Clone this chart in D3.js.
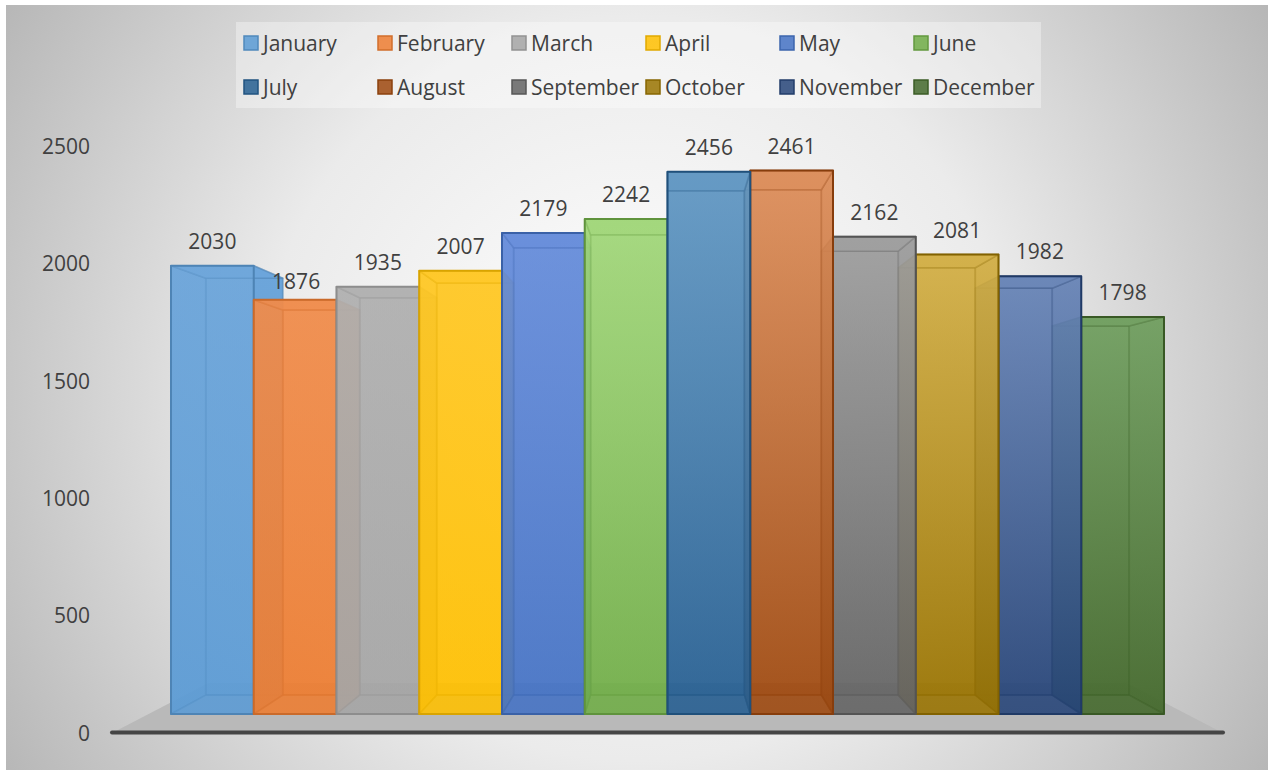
<!DOCTYPE html>
<html><head><meta charset="utf-8">
<style>html,body{margin:0;padding:0;background:#fff}svg{display:block}text{font-family:"Open Sans",sans-serif;fill:#404040}</style>
<script src="https://cdn.jsdelivr.net/npm/d3@7"></script></head><body>
<script>
const months=["January","February","March","April","May","June","July","August","September","October","November","December"];
const values=[2030,1876,1935,2007,2179,2242,2456,2461,2162,2081,1982,1798];
const colors=["#5B9BD5","#ED7D31","#A5A5A5","#FFC000","#4472C4","#70AD47","#255E91","#9E480E","#636363","#997300","#264478","#43682B"];
const topColors=["#6AA4DA","#F08B4A","#AFAFAF","#FFC722","#648BDA","#A0D678","#5F96C2","#DC8C58","#9C9C9C","#D2AE44","#6683B6","#6F9E5E"];
const yTicks=[0,500,1000,1500,2000,2500];
const W=1268,H=770;
const svg=d3.select("body").append("svg").attr("width",W).attr("height",H);
const defs=svg.append("defs");
const bg=defs.append("radialGradient").attr("id","bg").attr("gradientUnits","userSpaceOnUse")
 .attr("cx",636).attr("cy",388).attr("r",745);
bg.append("stop").attr("offset",0).attr("stop-color","#ffffff");
bg.append("stop").attr("offset",.5).attr("stop-color","#ebebeb");
bg.append("stop").attr("offset",1).attr("stop-color","#b6b6b6");
svg.append("rect").attr("x",6).attr("y",5).attr("width",W-6).attr("height",H-5).attr("fill","url(#bg)");

// scales
const x=d3.scaleBand().domain(months).range([171,1164]).padding(0);
const yBar=d3.scaleLinear().domain([0,2500]).range([714,162]);
const yAxis=d3.scaleLinear().domain([0,2500]).range([732.5,146]);
const vp=[667.5,444.5],depth=0.93;
const back=p=>[vp[0]+(p[0]-vp[0])*depth,vp[1]+(p[1]-vp[1])*depth];
const poly=pts=>pts.map(p=>p.join(",")).join(" ");

// floor
const floorFront=[113,1222],floorY=yAxis(0),floorBackY=683;
const floorBack=fx=>vp[0]+(fx-vp[0])*(floorBackY-vp[1])/(floorY-vp[1]);
const g=svg.append("g");
g.append("polygon").attr("points",poly([[floorFront[0],floorY],[floorFront[1],floorY],[floorBack(floorFront[1]),floorBackY],[floorBack(floorFront[0]),floorBackY]])).attr("fill","#b9b9b9");

// bars, painted from the outside towards the centre
months.forEach((m,i)=>{
 const lg=defs.append("linearGradient").attr("id","g"+i).attr("x1",0).attr("y1",0).attr("x2",0).attr("y2",1);
 lg.append("stop").attr("offset",0).attr("stop-color",topColors[i]);
 lg.append("stop").attr("offset",1).attr("stop-color",colors[i]);
});
const order=d3.range(12).sort((a,b)=>(a<6?a:100-a)-(b<6?b:100-b));
order.forEach(i=>{
 const m=months[i],c=colors[i],x0=x(m),x1=x0+x.bandwidth(),y0=yBar(0),y1=yBar(values[i]);
 const A=[x0,y1],B=[x1,y1],C=[x1,y0],D=[x0,y0];
 const a=back(A),b=back(B),cc=back(C),d=back(D);
 const st=d3.color(c).darker(.45).formatHex();
 const bar=g.append("g");
 const grad="url(#g"+i+")";
 const face=(pts,fill,op,sw,so)=>bar.append("polygon").attr("points",poly(pts)).attr("fill",fill).attr("fill-opacity",op)
   .attr("stroke",st).attr("stroke-opacity",so).attr("stroke-width",sw).attr("stroke-linejoin","round");
 face([a,b,cc,d],grad,.85,1.6,.55);    // back
 face([A,a,d,D],grad,.85,1.6,.4);      // left side
 face([B,b,cc,C],grad,.85,1.6,.4);     // right side
 face([D,C,cc,d],c,.75,1.6,.45);       // bottom
 face([A,B,b,a],topColors[i],.9,1.6,.55); // top
 bar.append("polygon").attr("points",poly([A,B,C,D])).attr("fill",grad).attr("fill-opacity",.55)
   .attr("stroke",st).attr("stroke-width",2).attr("stroke-linejoin","round");
});

// axis line
svg.append("line").attr("x1",floorFront[0]-1).attr("x2",floorFront[1]+1).attr("y1",floorY).attr("y2",floorY)
 .attr("stroke","#454545").attr("stroke-width",4).attr("stroke-linecap","round");

// y axis labels
svg.selectAll("text.tick").data(yTicks).join("text").attr("class","tick")
 .attr("x",90).attr("y",d=>yAxis(d)).attr("text-anchor","end").attr("dominant-baseline","central")
 .attr("font-size",21).text(d=>d);

// value labels
const labelGap=25,nudged={February:[1,6]};
svg.selectAll("text.val").data(months).join("text").attr("class","val")
 .attr("x",m=>x(m)+x.bandwidth()/2+(nudged[m]?nudged[m][0]:0))
 .attr("y",(m,i)=>yBar(values[i])-labelGap+(nudged[m]?nudged[m][1]:0))
 .attr("text-anchor","middle").attr("dominant-baseline","central").attr("font-size",21)
 .text((m,i)=>values[i]);

// legend
const lg=svg.append("g");
lg.append("rect").attr("x",236).attr("y",22).attr("width",805).attr("height",86).attr("fill","#fff").attr("fill-opacity",.35);
const lx=d3.scaleBand().domain(d3.range(6)).range([244,1048]);
const ly=d3.scaleBand().domain([0,1]).range([22,110]);
months.forEach((m,i)=>{
 const col=i%6,row=Math.floor(i/6),px=lx(col),py=ly(row)+ly.bandwidth()/2-1;
 lg.append("rect").attr("x",px).attr("y",py-7).attr("width",14).attr("height",14)
  .attr("fill",colors[i]).attr("fill-opacity",.85).attr("stroke",d3.color(colors[i]).darker(.35)).attr("stroke-width",1.5);
 lg.append("text").attr("x",px+19).attr("y",py).attr("dominant-baseline","central").attr("font-size",21).text(m);
});
</script></body></html>
